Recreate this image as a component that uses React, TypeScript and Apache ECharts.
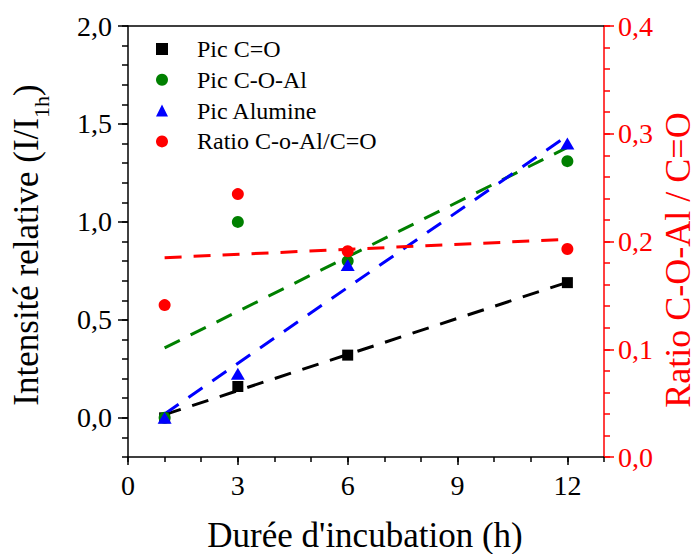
import React, { useEffect, useRef } from "react";
import * as echarts from "echarts";

const hours = [1, 3, 6, 12];
const picCO = [0.0, 0.16, 0.32, 0.69];
const picCOAl = [0.0, 1.0, 0.8, 1.31];
const picAlumine = [0.0, 0.225, 0.78, 1.4];
const ratio = [0.141, 0.244, 0.191, 0.193];

const fitX = [1, 12];
const fitCO = [0.016, 0.692];
const fitCOAl = [0.357, 1.38];
const fitAlumine = [0.02, 1.44];
const fitRatio = [0.185, 0.202];

const xTicks = [0, 3, 6, 9, 12];
const leftTicks = [0, 0.5, 1, 1.5, 2];
const rightTicks = [0, 0.1, 0.2, 0.3, 0.4];

const names = ["Pic C=O", "Pic C-O-Al", "Pic Alumine", "Ratio C-o-Al/C=O"];

const FONT = "Liberation Serif";
const BLACK = "#000000";
const GREEN = "#008000";
const BLUE = "#0000ff";
const RED = "#ff0000";

const pairs = (xs: number[], ys: number[]) => xs.map((x, i) => [x, ys[i]]);
const comma = (v: number) => v.toFixed(1).replace(".", ",");

export default function App() {
  const ref = useRef<HTMLDivElement>(null);

  useEffect(() => {
    document.body.style.margin = "0";
    const chart = echarts.init(ref.current!, null, { renderer: "svg" });

    const fitLine = (name: string, ys: number[], color: string, yAxisIndex: number) => ({
      name,
      type: "line",
      xAxisIndex: 0,
      yAxisIndex,
      data: pairs(fitX, ys),
      symbol: "none",
      silent: true,
      z: 2,
      lineStyle: { color, width: 3, type: [17, 12] },
    });

    const scatter = (
      name: string,
      ys: number[],
      color: string,
      symbol: string,
      size: any,
      yAxisIndex: number,
      z: number
    ) => ({
      name,
      type: "scatter",
      xAxisIndex: 0,
      yAxisIndex,
      data: pairs(hours, ys),
      symbol,
      symbolSize: size,
      itemStyle: { color, opacity: 1 },
      z,
    });

    chart.setOption({
      animation: false,
      backgroundColor: "#ffffff",
      textStyle: { fontFamily: FONT },
      grid: { left: 128, right: 93, top: 26, bottom: 97, containLabel: false },
      legend: {
        data: names,
        orient: "vertical",
        left: 156,
        top: 37,
        padding: 0,
        itemWidth: 12,
        itemHeight: 12,
        itemGap: 6.8,
        selectedMode: false,
        textStyle: {
          fontSize: 24,
          fontFamily: FONT,
          color: BLACK,
          lineHeight: 24,
          padding: [0, 0, 0, 24],
        },
      },
      xAxis: [
        {
          type: "value",
          min: 0,
          max: 13,
          position: "bottom",
          axisLine: { show: true, onZero: false, lineStyle: { color: BLACK, width: 1.5 } },
          axisTick: { show: true, customValues: xTicks, length: 8, lineStyle: { color: BLACK, width: 1.5 } },
          axisLabel: {
            customValues: xTicks,
            margin: 14,
            fontSize: 28,
            fontFamily: FONT,
            color: BLACK,
          },
          splitLine: { show: false },
        },
        {
          type: "value",
          min: 0,
          max: 13,
          interval: 1,
          position: "bottom",
          axisLine: { show: false, onZero: false },
          axisTick: { show: true, length: 5, lineStyle: { color: BLACK, width: 1.5 } },
          axisLabel: { show: false },
          splitLine: { show: false },
        },
        {
          type: "value",
          min: 0,
          max: 13,
          position: "top",
          axisLine: { show: true, onZero: false, lineStyle: { color: BLACK, width: 1.5 } },
          axisTick: { show: false },
          axisLabel: { show: false },
          splitLine: { show: false },
        },
      ],
      yAxis: [
        {
          type: "value",
          min: -0.2,
          max: 2.0,
          position: "left",
          axisLine: { show: true, onZero: false, lineStyle: { color: BLACK, width: 1.5 } },
          axisTick: { show: true, customValues: leftTicks, length: 10, lineStyle: { color: BLACK, width: 1.5 } },
          axisLabel: {
            customValues: leftTicks,
            formatter: (v: number) => comma(v),
            margin: 16,
            fontSize: 28,
            fontFamily: FONT,
            color: BLACK,
          },
          splitLine: { show: false },
        },
        {
          type: "value",
          min: -0.2,
          max: 2.0,
          interval: 0.1,
          position: "left",
          axisLine: { show: false, onZero: false },
          axisTick: { show: true, length: 6, lineStyle: { color: BLACK, width: 1.5 } },
          axisLabel: { show: false },
          splitLine: { show: false },
        },
        {
          type: "value",
          min: 0,
          max: 0.4,
          interval: 0.1,
          position: "right",
          axisLine: { show: true, onZero: false, lineStyle: { color: RED, width: 1.5 } },
          axisTick: { show: true, customValues: rightTicks, length: 10, lineStyle: { color: RED, width: 1.5 } },
          axisLabel: {
            customValues: rightTicks,
            formatter: (v: number) => comma(v),
            margin: 14,
            fontSize: 28,
            fontFamily: FONT,
            color: RED,
          },
          splitLine: { show: false },
        },
        {
          type: "value",
          min: 0,
          max: 0.4,
          interval: 0.02,
          position: "right",
          axisLine: { show: false, onZero: false },
          axisTick: { show: true, length: 6, lineStyle: { color: RED, width: 1.5 } },
          axisLabel: { show: false },
          splitLine: { show: false },
        },
      ],
      series: [
        fitLine("fitCO", fitCO, BLACK, 0),
        fitLine("fitCOAl", fitCOAl, GREEN, 0),
        fitLine("fitAlumine", fitAlumine, BLUE, 0),
        fitLine("fitRatio", fitRatio, RED, 2),
        scatter(names[0], picCO, BLACK, "rect", 11, 0, 3),
        scatter(names[1], picCOAl, GREEN, "circle", 12, 0, 4),
        scatter(names[2], picAlumine, BLUE, "triangle", [14, 12], 0, 5),
        scatter(names[3], ratio, RED, "circle", 12, 2, 6),
      ],
      graphic: [
        {
          type: "text",
          x: 365,
          y: 535,
          silent: true,
          style: {
            text: "Durée d'incubation (h)",
            fontSize: 35,
            fontFamily: FONT,
            fill: BLACK,
            align: "center",
            verticalAlign: "middle",
          },
        },
        {
          type: "text",
          x: 26,
          y: 245,
          rotation: Math.PI / 2,
          silent: true,
          style: {
            text: "{a|Intensité relative (I/I}{b|1h}{a|)}",
            align: "center",
            verticalAlign: "middle",
            fill: BLACK,
            rich: {
              a: { fontSize: 35, fontFamily: FONT, lineHeight: 40, fill: BLACK },
              b: { fontSize: 22, fontFamily: FONT, lineHeight: 22, padding: [30, 0, 0, 0], fill: BLACK },
            },
          },
        },
        {
          type: "text",
          x: 678,
          y: 260,
          rotation: Math.PI / 2,
          silent: true,
          style: {
            text: "Ratio C-O-Al / C=O",
            fontSize: 36,
            fontFamily: FONT,
            fill: RED,
            align: "center",
            verticalAlign: "middle",
          },
        },
      ],
    });

    return () => chart.dispose();
  }, []);

  return <div ref={ref} style={{ width: 697, height: 554 }} />;
}
